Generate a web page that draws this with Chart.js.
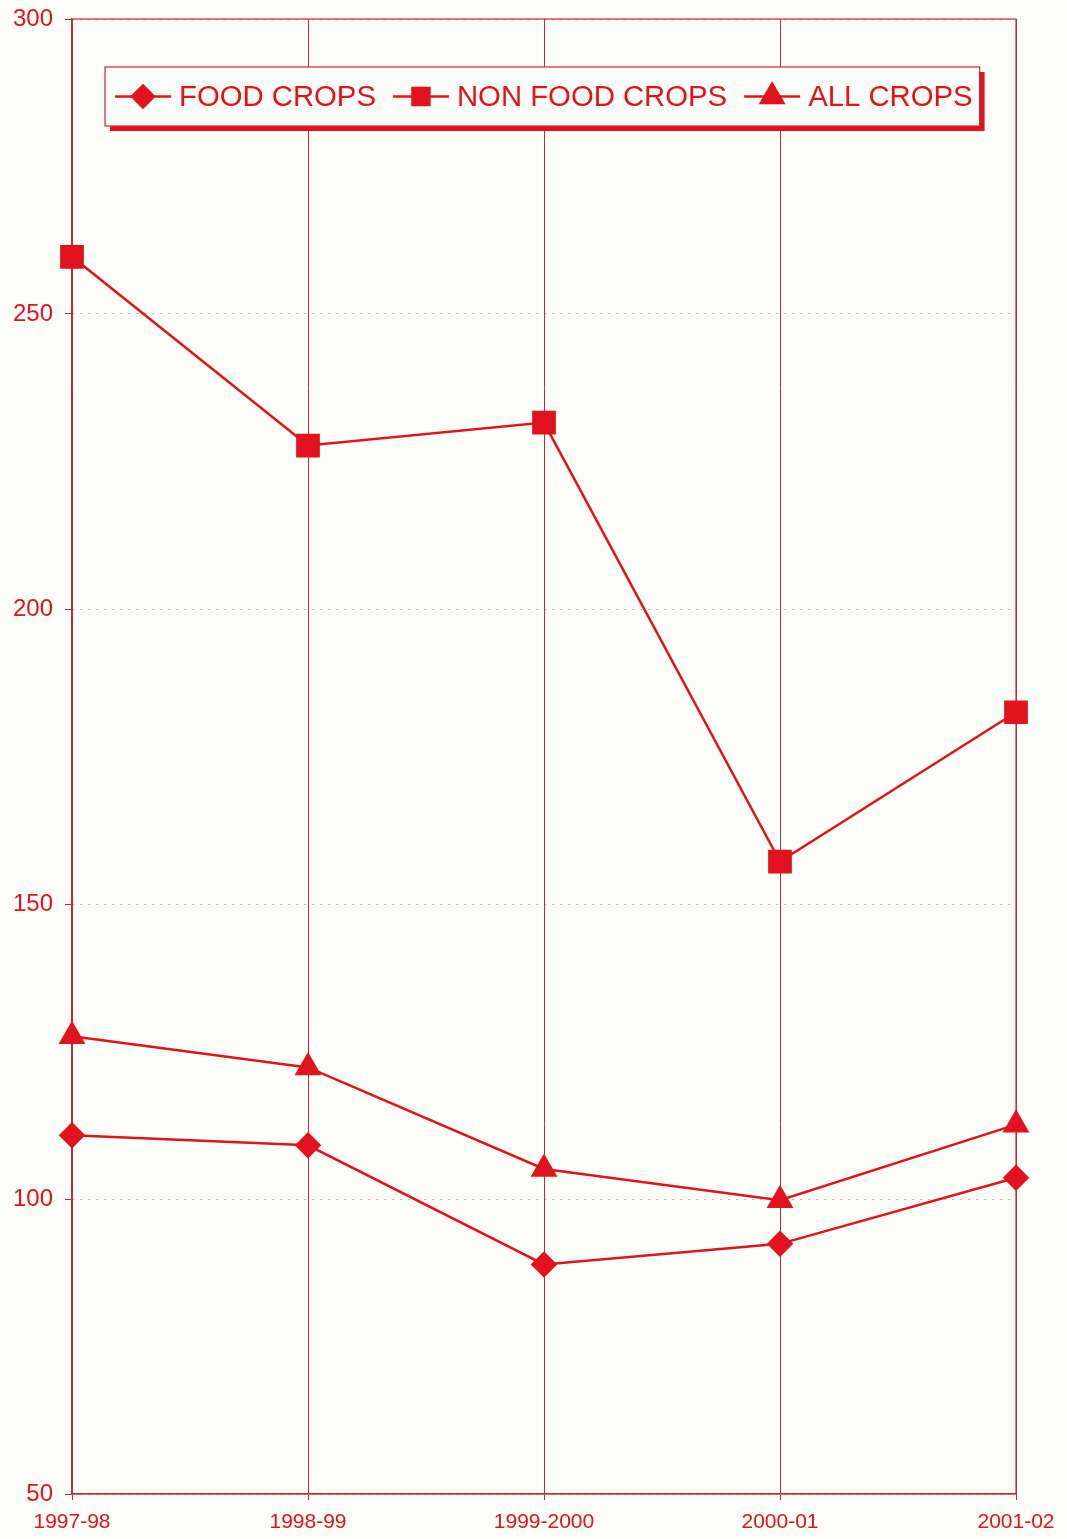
<!DOCTYPE html>
<html>
<head>
<meta charset="utf-8">
<script src="https://cdn.jsdelivr.net/npm/chart.js@4/dist/chart.umd.min.js"></script>
<style>
  html, body { margin:0; padding:0; background:#fdfdf7; }
  #wrap { width:1067px; height:1539px; position:relative; }
</style>
</head>
<body>
<div id="wrap"><canvas id="plot" width="1067" height="1539"></canvas></div>
<script>
var years = ["1997-98", "1998-99", "1999-2000", "2000-01", "2001-02"];
var foodCrops = [110.8, 109.1, 88.9, 92.4, 103.6];
var nonFoodCrops = [259.7, 227.7, 231.6, 157.2, 182.5];
var allCrops = [127.6, 122.3, 105.1, 99.8, 112.6];
var yTicks = [50, 100, 150, 200, 250, 300];

var RED = '#e3121f';
var GRID = '#c9283a';
var FONT = '"Liberation Sans", Arial, sans-serif';

// frame round the plot area, drawn under the lines
var framePlugin = {
    id:'frame',
    beforeDatasetsDraw:function(chart){
        var a = chart.chartArea, ctx = chart.ctx;
        ctx.save();
        ctx.strokeStyle = GRID;
        ctx.lineWidth = 1.2;
        ctx.strokeRect(a.left, a.top, a.right - a.left, a.bottom - a.top);
        ctx.restore();
    }
};

// boxed legend with shadow, inside the plot
var boxLegend = {
    id:'boxLegend',
    afterDatasetsDraw:function(chart){
        var ctx = chart.ctx;
        var left = 105, top = 67, h = 59;
        var cy = top + h/2;
        ctx.save();
        ctx.font = '29.3px ' + FONT;
        var x = left + 10;
        var items = [];
        chart.data.datasets.forEach(function(ds){
            var w = ctx.measureText(ds.label).width;
            items.push({ds:ds, x:x, w:w});
            x = x + 64 + w + 17;
        });
        var right = x - 17 + 7;
        // shadow
        ctx.fillStyle = RED;
        ctx.fillRect(left + 5, top + 5, right - left, h);
        ctx.fillStyle = '#fdfdf7';
        ctx.fillRect(left, top, right - left, h);
        ctx.strokeStyle = GRID;
        ctx.lineWidth = 1.2;
        ctx.strokeRect(left, top, right - left, h);

        items.forEach(function(it){
            ctx.strokeStyle = RED;
            ctx.lineWidth = 2.5;
            ctx.beginPath();
            ctx.moveTo(it.x, cy);
            ctx.lineTo(it.x + 56, cy);
            ctx.stroke();
            ctx.fillStyle = RED;
            Chart.helpers.drawPoint(ctx, {pointStyle:it.ds.pointStyle, rotation:0, radius:it.ds.legendRadius, borderWidth:1}, it.x + 28, cy);
            ctx.fillStyle = RED;
            ctx.textBaseline = 'middle';
            ctx.textAlign = 'left';
            ctx.fillText(it.ds.label, it.x + 64, cy + 1);
        });
        ctx.restore();
    }
};

var ctx = document.getElementById('plot').getContext('2d');
var chart = new Chart(ctx, {
    type:'line',
    data:{
        labels:years,
        datasets:[{
            label:'FOOD CROPS',
            data:foodCrops,
            borderColor:RED,
            backgroundColor:RED,
            pointStyle:'rectRot',
            pointRadius:11.5,
            legendRadius:11,
            borderWidth:2.5
        },{
            label:'NON FOOD CROPS',
            data:nonFoodCrops,
            borderColor:RED,
            backgroundColor:RED,
            pointStyle:'rect',
            pointRadius:15,
            legendRadius:12,
            borderWidth:2.5
        },{
            label:'ALL CROPS',
            data:allCrops,
            borderColor:RED,
            backgroundColor:RED,
            pointStyle:'triangle',
            pointRadius:13,
            legendRadius:13,
            borderWidth:2.5
        }]
    },
    options:{
        responsive:false,
        animation:false,
        devicePixelRatio:1,
        layout:{padding:{top:19, right:51, left:0, bottom:0}},
        plugins:{legend:{display:false}, tooltip:{enabled:false}},
        elements:{line:{tension:0}, point:{borderWidth:1, hoverRadius:0}},
        scales:{
            x:{
                offset:false,
                grid:{color:GRID, lineWidth:1, tickLength:6, tickColor:GRID},
                border:{color:GRID, width:1.2},
                ticks:{color:RED, font:{family:FONT, size:21}, padding:10, maxRotation:0, autoSkip:false},
                afterFit:function(s){ s.height = 45; }
            },
            y:{
                min:50, max:300,
                afterBuildTicks:function(s){ s.ticks = yTicks.map(function(v){ return {value:v}; }); },
                grid:{color:'rgba(205,50,70,0.45)', lineWidth:1, tickLength:7, tickColor:GRID},
                border:{color:GRID, width:1.2, dash:[2,6]},
                ticks:{color:RED, font:{family:FONT, size:24}, padding:12, autoSkip:false},
                afterFit:function(s){ s.width = 72; s.paddingTop = 0; s.paddingBottom = 0; }
            }
        }
    },
    plugins:[framePlugin, boxLegend]
});
</script>
</body>
</html>
